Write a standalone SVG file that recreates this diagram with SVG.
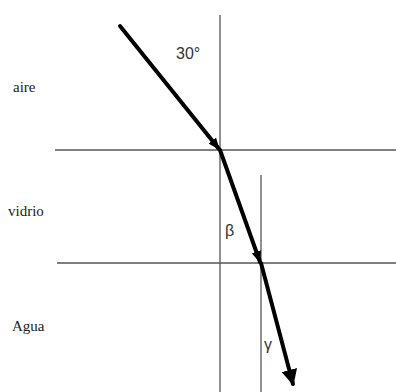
<svg xmlns="http://www.w3.org/2000/svg" width="396" height="392" viewBox="0 0 396 392">
<style>
.ln{stroke:#555;stroke-width:1.3;fill:none}
.ray{stroke:#000;stroke-width:4;fill:none;stroke-linecap:round}
.lbl{font-family:"Liberation Serif",serif;font-size:15px;fill:#222}
.sym{font-family:"Liberation Sans",sans-serif;font-size:16px;fill:#333}
</style>
<defs>
<marker id="ah" viewBox="0 0 10 10" refX="9" refY="5" markerWidth="4" markerHeight="4" orient="auto" markerUnits="strokeWidth">
<path d="M0,0 L10,5 L0,10 Z" fill="#000"/>
</marker>
<marker id="ahs" viewBox="0 0 10 10" refX="9" refY="5" markerWidth="3" markerHeight="3" orient="auto" markerUnits="strokeWidth">
<path d="M0,1 L10,5 L0,9 Z" fill="#000"/>
</marker>
</defs>
<rect width="396" height="392" fill="#fff"/>
<g id="lines">
<line class="ln" x1="55" y1="150" x2="396" y2="150"/>
<line class="ln" x1="57" y1="263" x2="396" y2="263"/>
<line class="ln" x1="220" y1="15" x2="220" y2="392"/>
<line class="ln" x1="261" y1="175" x2="261" y2="392"/>
</g>
<g id="connectors">
<line class="ray" x1="120" y1="26" x2="219" y2="149" marker-end="url(#ahs)"/>
<line class="ray" x1="220" y1="150" x2="260" y2="262" marker-end="url(#ahs)"/>
<line class="ray" x1="261" y1="263" x2="293" y2="384" marker-end="url(#ah)"/>
</g>
<g id="labels">
<text class="sym" x="176" y="59">30°</text>
<text class="lbl" x="13" y="92">aire</text>
<text class="lbl" x="8" y="216">vidrio</text>
<text class="lbl" x="12" y="331">Agua</text>
<text class="sym" x="225" y="236">β</text>
<text class="sym" x="264" y="350">γ</text>
</g>
</svg>
